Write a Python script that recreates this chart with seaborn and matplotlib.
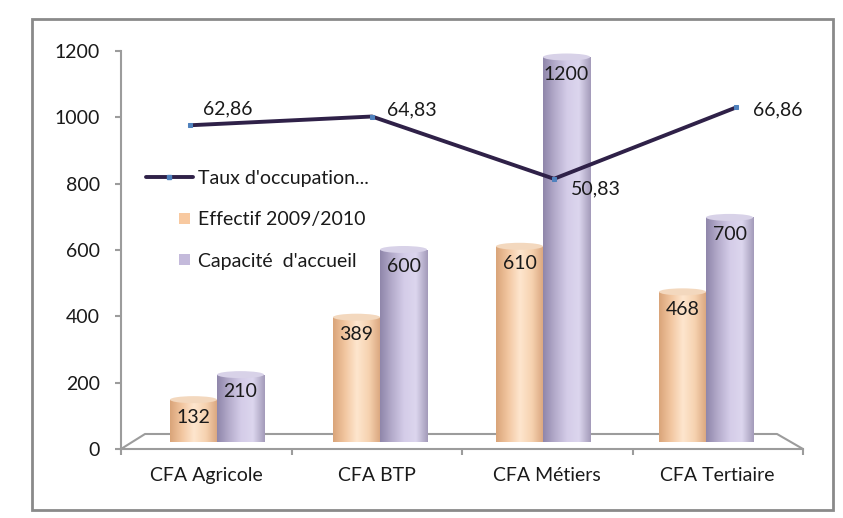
import numpy as np
import pandas as pd
import matplotlib
matplotlib.use("Agg")
import matplotlib.pyplot as plt
from matplotlib.colors import LinearSegmentedColormap
from matplotlib.patches import Ellipse, Rectangle
from matplotlib.lines import Line2D
from matplotlib.legend_handler import HandlerBase
import seaborn as sns

# ---- data ----
categories = ["CFA Agricole", "CFA BTP", "CFA Métiers", "CFA Tertiaire"]
effectif = [132, 389, 610, 468]
capacite = [210, 600, 1200, 700]
taux = [62.86, 64.83, 50.83, 66.86]
series_names = ["Effectif 2009/2010", "Capacité  d'accueil"]
line_name = "Taux d'occupation..."
y_ticks = [0, 200, 400, 600, 800, 1000, 1200]

# ---- style ----
sns.set_theme(style="white")
plt.rcParams["font.family"] = ["Lato", "DejaVu Sans"]
FS = 14
TXT = "#1a1a1a"
GRID = "#9c9c9c"
peach = "#F8C9A0"
lav = "#C4BADB"
line_col = "#2F2148"
marker_col = "#4F81BD"

W, H = 843, 518
fig = plt.figure(figsize=(W / 100, H / 100), dpi=100)
fig.patch.set_facecolor("white")

def frac(l, r, b, t):
    return [l / W, (H - b) / H, (r - l) / W, (b - t) / H]

# outer frame
fig.patches.append(Rectangle((32 / W, (H - 510) / H), (833 - 32) / W, (510 - 19) / H,
                             transform=fig.transFigure, fill=False,
                             edgecolor="#8a8a8a", lw=2, zorder=0))

# main axes: ticks, labels, floor
ax = fig.add_axes(frac(121, 803, 449, 51))
ax.set_xlim(-0.5, 3.5)
ax.set_ylim(0, 1200)
ax.set_facecolor("none")
for s in ["top", "right"]:
    ax.spines[s].set_visible(False)
for s in ["left", "bottom"]:
    ax.spines[s].set_color(GRID)
    ax.spines[s].set_linewidth(1.5)
ax.set_yticks(y_ticks)
ax.set_yticklabels([str(v) for v in y_ticks], fontsize=FS, color=TXT)
ax.tick_params(axis="y", direction="out", length=4, width=1.5, color=GRID, pad=11, left=True)
ax.set_xticks(np.arange(-0.5, 4.0, 1.0))
ax.set_xticklabels([])
ax.tick_params(axis="x", which="major", direction="out", length=4, width=1.5, color=GRID, bottom=True)
ax.set_xticks(np.arange(len(categories)), minor=True)
ax.set_xticklabels(categories, minor=True, fontsize=FS, color=TXT)
ax.tick_params(axis="x", which="minor", length=0, pad=13)
# 3D floor outline
ax.plot([0, 0.0352, 0.9619, 1.0], [0, 0.0377, 0.0377, 0.0], transform=ax.transAxes,
        color=GRID, lw=1.5, clip_on=False)

# bar axes
axb = fig.add_axes(frac(135.5, 787.5, 442, 57))
df = pd.DataFrame({
    "cat": categories * 2,
    "serie": [series_names[0]] * 4 + [series_names[1]] * 4,
    "val": effectif + capacite,
})
sns.barplot(data=df, x="cat", y="val", hue="serie", hue_order=series_names,
            palette=[peach, lav], saturation=1, width=0.577, ax=axb,
            legend=False, linewidth=0)
axb.set_xlim(-0.5, 3.5)
axb.set_ylim(0, 1200)
axb.axis("off")
axb.set_facecolor("none")

cmaps = [
    LinearSegmentedColormap.from_list("pe", ["#D9A479", "#F2C6A0", "#FEE6CE", "#F6D2B0", "#D8A47C"]),
    LinearSegmentedColormap.from_list("lv", ["#8F86AA", "#B4ABCB", "#D4CCE8", "#DCD6EE", "#A39AB9"]),
]
tops = ["#F3D8BE", "#D8D2E8"]
grad = np.linspace(0, 1, 256).reshape(1, -1)
px_per_unit = 385 / 1200
for k, cont in enumerate(axb.containers):
    for p in cont.patches:
        x0, w, h = p.get_x(), p.get_width(), p.get_height()
        im = axb.imshow(grad, cmap=cmaps[k], aspect="auto", extent=(x0, x0 + w, 0, h),
                        zorder=2, interpolation="bicubic")
        im.set_clip_path(p)
        p.set_alpha(0)
        eh = 7 / px_per_unit
        axb.add_patch(Ellipse((x0 + w / 2, h), w, eh, facecolor=tops[k],
                              edgecolor="none", zorder=3, clip_on=False))
        axb.annotate(str(int(round(h))), (x0 + w / 2, h), xytext=(0, -12.5),
                     textcoords="offset points", ha="center", va="center",
                     fontsize=FS, color=TXT, zorder=5)
axb.set_xlim(-0.5, 3.5)
axb.set_ylim(0, 1200)

# line axes
axl = fig.add_axes(frac(99, 827, 405, 49))
sns.lineplot(x=categories, y=taux, ax=axl, sort=False, color=line_col, lw=2.8,
             marker="s", markersize=3.5, markerfacecolor=marker_col,
             markeredgecolor=marker_col, zorder=4)
axl.set_xlim(-0.5, 3.5)
axl.set_ylim(0, 80)
axl.axis("off")
axl.set_facecolor("none")
offsets = [(9, 12), (11, 5), (12, -7), (12, -2)]
for i, v in enumerate(taux):
    axl.annotate(f"{v:.2f}".replace(".", ","), (i, v), xytext=offsets[i],
                 textcoords="offset points", ha="left", va="center",
                 fontsize=FS, color=TXT)


class SquareRight(HandlerBase):
    """Small square swatch placed at the right end of the handle box."""
    def create_artists(self, legend, orig, xd, yd, width, height, fontsize, trans):
        s = 8.0
        r = Rectangle((-xd + width - s - 2, -yd + (height - s) / 2), s, s,
                      facecolor=orig.get_facecolor(), edgecolor="none", transform=trans)
        return [r]


# legend
handles = [
    Line2D([], [], color=line_col, lw=2.8, marker="s", markersize=3,
           markerfacecolor=marker_col, markeredgecolor=marker_col),
    Rectangle((0, 0), 1, 1, facecolor=peach),
    Rectangle((0, 0), 1, 1, facecolor=lav),
]
labels = [line_name, series_names[0], series_names[1]]
fig.legend(handles, labels, loc="upper left", bbox_to_anchor=(146 / W, 1 - 170 / H),
           frameon=False, fontsize=FS, labelcolor=TXT, handlelength=2.4,
           handletextpad=0.3, labelspacing=1.25, borderpad=0, borderaxespad=0,
           numpoints=1, handler_map={Rectangle: SquareRight()})

fig.savefig("out.png", dpi=100)
